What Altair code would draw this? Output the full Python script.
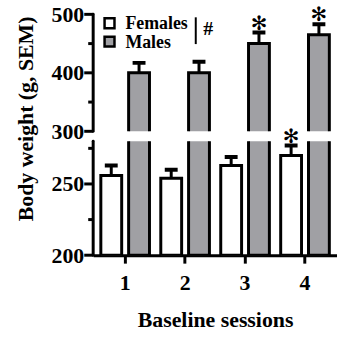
import altair as alt
import pandas as pd

sessions = ["1", "2", "3", "4"]
sexes = ["Females", "Males"]
female_mean = [256, 254, 263, 270]
female_sem = [7, 6, 6, 7]
male_mean = [400, 400, 450, 465]
male_sem = [17, 19, 19, 18]
female_sig = [False, False, False, True]
male_sig = [False, False, True, True]

upper_domain = [300, 500]
upper_major = [300, 400, 500]
upper_minor = [350, 450]
lower_domain = [200, 280]
lower_major = [200, 250]
lower_minor = [225, 275]

rows = []
for i, s in enumerate(sessions):
    rows.append({"session": s, "sex": "Females", "mean": female_mean[i], "sem": female_sem[i], "sig": female_sig[i]})
    rows.append({"session": s, "sex": "Males", "mean": male_mean[i], "sem": male_sem[i], "sig": male_sig[i]})
df = pd.DataFrame(rows)

FONT = "Liberation Serif"
x_scale = alt.Scale(domain=sessions, paddingInner=0.133, paddingOuter=0.1)
xo_scale = alt.Scale(domain=sexes, paddingInner=0.25, paddingOuter=0.06)
fill_scale = alt.Scale(domain=sexes, range=["white", "#a0a0a4"])


def panel(dom, major, minor, h, upper):
    yscale = alt.Scale(domain=dom, nice=False, zero=False)
    if upper:
        yaxis = alt.Axis(values=major, labelPadding=9.5, grid=False, domain=False,
                         ticks=False, labelOverlap=False,
                         title="Body weight (g, SEM)", titleX=-68, titleY=105, titleAngle=270,
                         titleBaseline="middle", titleAlign="center")
        xaxis = None
    else:
        yaxis = alt.Axis(values=major, labelPadding=9.5, grid=False, domain=False,
                         ticks=False, labelOverlap=False, title=None)
        xaxis = alt.Axis(title="Baseline sessions", labelAngle=0, tickSize=8, labelPadding=10,
                         titlePadding=16)
    base = alt.Chart(df).transform_calculate(err="datum.mean + datum.sem").encode(
        x=alt.X("session:N", scale=x_scale, axis=xaxis),
        xOffset=alt.XOffset("sex:N", scale=xo_scale),
    )
    bars = base.mark_bar(stroke="black", strokeWidth=3, clip=True).encode(
        y=alt.Y("mean:Q", scale=yscale, axis=yaxis),
        y2=alt.datum(200),
        fill=alt.Fill("sex:N", scale=fill_scale, legend=None),
    )
    stem = base.mark_rule(strokeWidth=3, color="black", clip=True).encode(
        y=alt.Y("mean:Q", scale=yscale), y2="err:Q")
    cap = base.mark_tick(thickness=4, size=13, color="black", opacity=1, clip=True).encode(
        y=alt.Y("err:Q", scale=yscale))
    cond = "datum.err >= 300" if upper else "datum.err < 300"
    star = base.mark_text(text="\u273b", font="DejaVu Sans", fontSize=20,
                          baseline="alphabetic", dy=-3, color="black").encode(
        y=alt.Y("err:Q", scale=yscale)).transform_filter(f"datum.sig && {cond}")

    # broken y axis: line and ticks of each segment
    dom_df = pd.DataFrame({"lo": [dom[0]], "hi": [dom[1]]})
    axis_line = alt.Chart(dom_df).mark_rule(strokeWidth=3, color="black", strokeCap="round").encode(
        x=alt.value(0), y=alt.Y("lo:Q", scale=yscale), y2="hi:Q")
    major_t = alt.Chart(pd.DataFrame({"v": major})).mark_tick(
        orient="horizontal", size=9, thickness=3, color="black", opacity=1).encode(
        x=alt.value(-4.5), y=alt.Y("v:Q", scale=yscale))
    minor_t = alt.Chart(pd.DataFrame({"v": minor})).mark_tick(
        orient="horizontal", size=5, thickness=3, color="black", opacity=1).encode(
        x=alt.value(-2.5), y=alt.Y("v:Q", scale=yscale))

    layers = [bars, stem, cap, star, axis_line, major_t, minor_t]
    if upper:
        for i, sx in enumerate(sexes):
            ldf = pd.DataFrame({"sex": [sx]})
            yy = 9 + 18.5 * i
            sq = alt.Chart(ldf).mark_square(size=100, stroke="black", strokeWidth=2.5, opacity=1).encode(
                x=alt.value(16.5), y=alt.value(yy),
                fill=alt.Fill("sex:N", scale=fill_scale, legend=None))
            tx = alt.Chart(ldf).mark_text(font=FONT, fontWeight="bold", fontSize=18, align="left",
                                          baseline="middle", color="black").encode(
                x=alt.value(32.5), y=alt.value(yy + 1), text="sex:N")
            layers += [sq, tx]
        ann = pd.DataFrame({"t": ["#"]})
        bar_line = alt.Chart(ann).mark_rule(strokeWidth=2, color="black").encode(
            x=alt.value(103.5), y=alt.value(3), y2=alt.value(30))
        hash_t = alt.Chart(ann).mark_text(font=FONT, fontWeight="bold", fontSize=20,
                                          align="left", baseline="middle", color="black").encode(
            x=alt.value(111), y=alt.value(15), text="t:N")
        layers += [bar_line, hash_t]
    return alt.layer(*layers).properties(width=246, height=h)


upper = panel(upper_domain, upper_major, upper_minor, 118, True)
lower = panel(lower_domain, lower_major, lower_minor, 115, False)

chart = alt.vconcat(upper, lower, spacing=10, bounds="flush").resolve_scale(y="independent").properties(
    padding={"left": 15, "top": 2, "right": 0, "bottom": 0}
).configure_view(stroke=None).configure_axis(
    domainColor="black", domainWidth=3, tickColor="black", tickWidth=3,
    labelFont=FONT, labelFontWeight="bold", labelFontSize=22, labelColor="black",
    titleFont=FONT, titleFontWeight="bold", titleFontSize=22, titleColor="black",
)

chart.save("out.html", embed_options={"renderer": "svg", "actions": False})
